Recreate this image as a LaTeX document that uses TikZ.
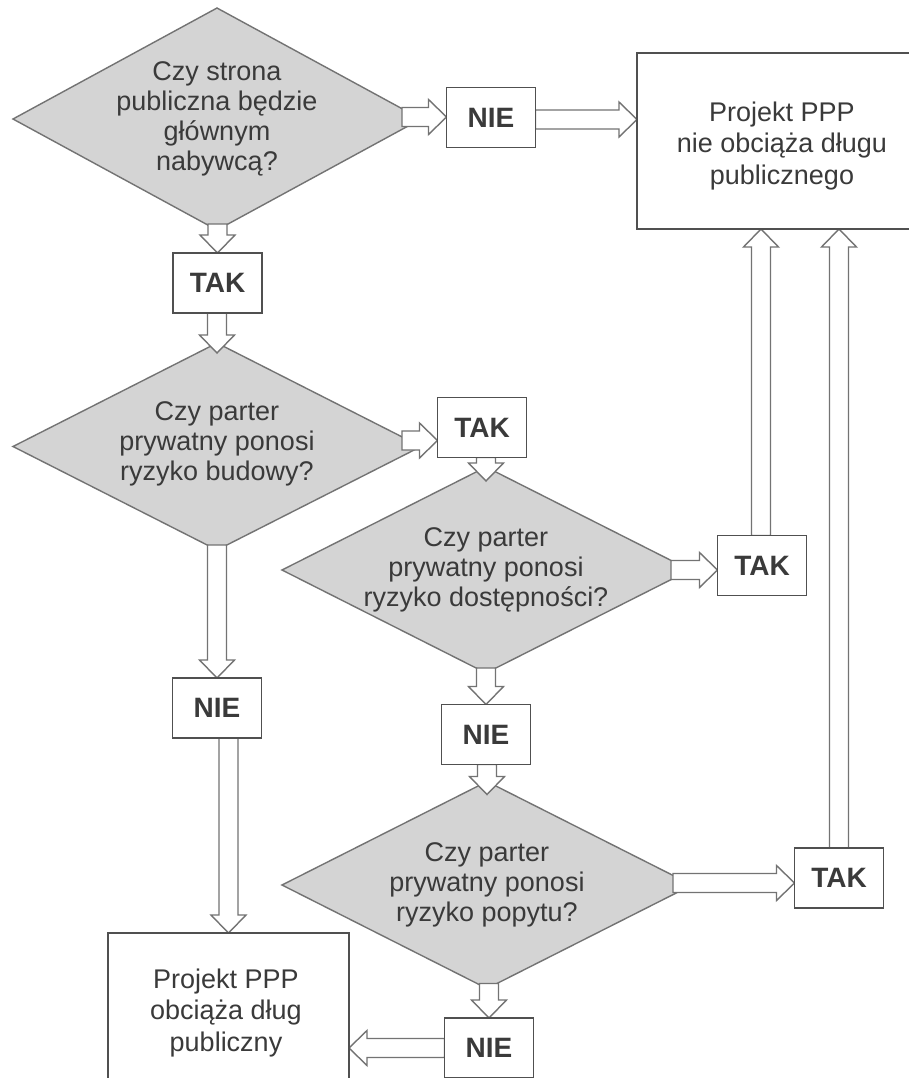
\documentclass[tikz,border=0pt]{standalone}
\usepackage{fontspec}
\setmainfont{Liberation Sans}
\usetikzlibrary{shapes.geometric,calc}
\pgfdeclarelayer{front}
\pgfsetlayers{main,front}
\definecolor{linec}{RGB}{80,80,80}
\definecolor{arrc}{RGB}{115,115,115}
\definecolor{diafill}{RGB}{212,212,212}
\definecolor{txtc}{RGB}{58,58,58}
\def\awS{4.75pt}\def\awH{8.75pt}\def\awL{9pt}
% block arrows: #1 start, #2 end
\newcommand\arrdown[2]{\draw[blk] let \p1=(#1), \p2=(#2) in
  (\x2-\awS,\y1) -- (\x2-\awS,\y2+\awL) -- (\x2-\awH,\y2+\awL) -- (\x2,\y2)
  -- (\x2+\awH,\y2+\awL) -- (\x2+\awS,\y2+\awL) -- (\x2+\awS,\y1) -- cycle;}
\newcommand\arrup[2]{\draw[blk] let \p1=(#1), \p2=(#2) in
  (\x1-\awS,\y1) -- (\x1-\awS,\y2-\awL) -- (\x1-\awH,\y2-\awL) -- (\x1,\y2)
  -- (\x1+\awH,\y2-\awL) -- (\x1+\awS,\y2-\awL) -- (\x1+\awS,\y1) -- cycle;}
\newcommand\arrright[2]{\draw[blk] let \p1=(#1), \p2=(#2) in
  (\x1,\y1+\awS) -- (\x2-\awL,\y1+\awS) -- (\x2-\awL,\y1+\awH) -- (\x2,\y1)
  -- (\x2-\awL,\y1-\awH) -- (\x2-\awL,\y1-\awS) -- (\x1,\y1-\awS) -- cycle;}
\newcommand\arrleft[2]{\draw[blk] let \p1=(#1), \p2=(#2) in
  (\x1,\y1+\awS) -- (\x2+\awL,\y1+\awS) -- (\x2+\awL,\y1+\awH) -- (\x2,\y1)
  -- (\x2+\awL,\y1-\awH) -- (\x2+\awL,\y1-\awS) -- (\x1,\y1-\awS) -- cycle;}
\begin{document}
\begin{tikzpicture}[x=0.5pt,y=-0.5pt,
  box/.style={draw=linec, line width=0.9pt, fill=white, inner sep=0pt, outer sep=0pt,
    text=txtc, align=center},
  yn/.style={box, minimum width=44.5pt, minimum height=30pt,
    font=\bfseries\fontsize{14pt}{16pt}\selectfont},
  endbox/.style={box},
  ptext/.style={align=center, text=txtc, inner sep=0pt,
    font=\fontsize{13.5pt}{15.7pt}\selectfont},
  dia/.style={diamond, draw=arrc, line width=0.7pt, fill=diafill, inner sep=0pt, outer sep=0pt},
  dtext/.style={align=center, text=txtc, inner sep=0pt,
    font=\fontsize{13.5pt}{15pt}\selectfont},
  blk/.style={draw=arrc, line width=0.7pt, fill=white, line join=miter}]
\useasboundingbox (0,0) rectangle (909,1078);
\clip (0,0) rectangle (909,1078);
\fill[white] (0,0) rectangle (909,1078);

% decision diamonds
\node[dia, minimum width=204pt, minimum height=111pt] (d1) at (217,119) {};
\node[dia, minimum width=204pt, minimum height=103.5pt] (d2) at (217,446.5) {};
\node[dia, minimum width=204pt, minimum height=103pt] (d3) at (486,570) {};
\node[dia, minimum width=205pt, minimum height=103.5pt] (d4) at (487,885) {};

\begin{pgfonlayer}{front}
% answer boxes
\node[yn] (nie1) at (491,117.5) {NIE};
\node[yn] (tak1) at (217.5,283) {TAK};
\node[yn] (tak2) at (482,427.5) {TAK};
\node[yn] (tak3) at (762,565.5) {TAK};
\node[yn] (nie2) at (217,708) {NIE};
\node[yn] (nie3) at (486,734.5) {NIE};
\node[yn] (tak4) at (839,878) {TAK};
\node[yn] (nie4) at (489,1048) {NIE};
% outcome boxes
\node[endbox, minimum width=146.5pt, minimum height=88pt] (ppp1) at (783.5,141) {};
\node[ptext] (ppp1t) at (782,146) {Projekt PPP\\nie obciąża długu\\publicznego};
\node[endbox, minimum width=120.5pt, minimum height=82pt] (ppp2) at (228.5,1015) {};
\node[ptext] (ppp2t) at (226,1013) {Projekt PPP\\obciąża dług\\publiczny};
% diamond texts
\node[dtext] (d1t) at (d1) {Czy strona\\publiczna będzie\\głównym\\nabywcą?};
\node[dtext] (d2t) at ($(d2)+(0,-3)$) {Czy parter\\prywatny ponosi\\ryzyko budowy?};
\node[dtext] (d3t) at (d3) {Czy parter\\prywatny ponosi\\ryzyko dostępności?};
\node[dtext] (d4t) at (d4) {Czy parter\\prywatny ponosi\\ryzyko popytu?};
\end{pgfonlayer}

% connectors
\arrright{$(d1.east)+(-19,-2)$}{nie1.west}
\arrright{$(nie1.east)+(0,2)$}{ppp1.west}
\arrdown{$(d1.south)+(0,-6)$}{tak1.north}
\arrdown{tak1.south}{$(d2.north)+(0,10)$}
\arrright{$(d2.east)+(-19,-6)$}{tak2.west}
\arrdown{$(d2.south)+(0,-5)$}{nie2.north}
\arrdown{tak2.south}{$(d3.north)+(0,14)$}
\arrright{$(d3.east)+(-19,0)$}{tak3.west}
\arrdown{$(d3.south)+(0,-5)$}{nie3.north}
\arrdown{nie3.south}{$(d4.north)+(0,13)$}
\arrright{$(d4.east)+(-19,-2)$}{tak4.west}
\arrdown{$(d4.south)+(0,-5)$}{nie4.north}
\arrdown{nie2.south}{ppp2.north}
\arrleft{nie4.west}{ppp2.east}
\arrup{$(tak3.north)+(-1,0)$}{ppp1.south}
\arrup{tak4.north}{ppp1.south}
\end{tikzpicture}
\end{document}
